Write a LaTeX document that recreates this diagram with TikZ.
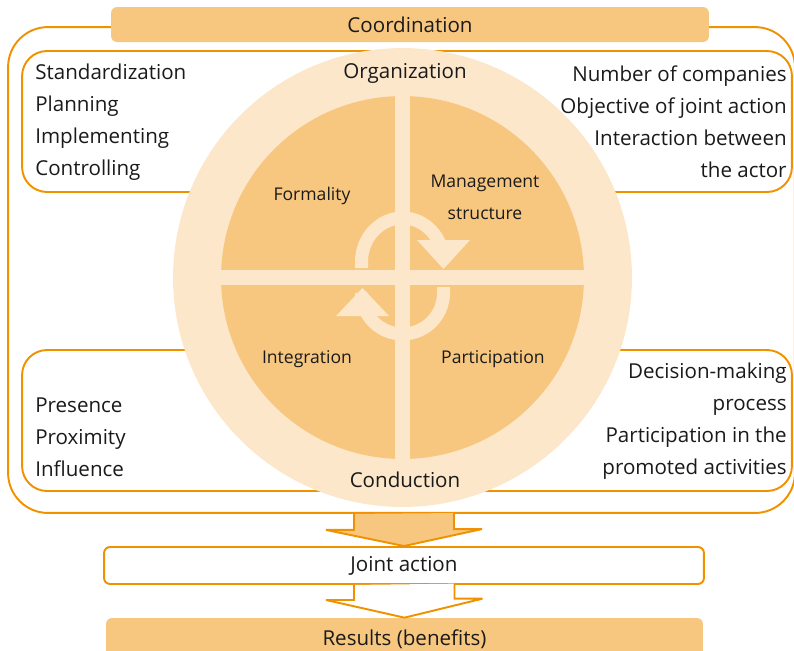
\documentclass[tikz,border=0pt]{standalone}
\usepackage{fontspec}
\setmainfont{Open Sans}
\usepackage{tikz}
\usetikzlibrary{calc}
\usetikzlibrary{positioning}
\definecolor{lineorange}{RGB}{240,145,0}
\definecolor{warm}{RGB}{247,199,128}
\definecolor{pale}{RGB}{252,231,202}
\definecolor{ink}{RGB}{26,26,26}

\begin{document}
\begin{tikzpicture}[x=0.02cm,y=-0.02cm]
\tikzstyle{frame}=[rectangle,draw=lineorange,line width=1.1pt,inner sep=0pt]
\tikzstyle{bar}=[rectangle,rounded corners=0.12cm,inner sep=0pt,text=ink,font=\fontsize{11.7}{14}\selectfont]
\tikzstyle{lst}=[inner sep=0pt,text=ink,font=\fontsize{11.7}{18.2}\selectfont]
\tikzstyle{sector}=[inner sep=0pt,text=ink,align=center,font=\fontsize{10}{18}\selectfont]
\tikzstyle{flow}=[draw=lineorange,line width=1.1pt,line join=miter,miter limit=1.5]
\useasboundingbox (0,0) rectangle (794,650);

% frames
\node[frame,rounded corners=0.8cm,minimum width=15.74cm,minimum height=9.72cm] at(401.5, 270) (outer) {};
\node[frame,rounded corners=0.5cm,minimum width=15.4cm,minimum height=2.82cm] at(407, 121.5) (upper) {};
\node[frame,rounded corners=0.5cm,minimum width=15.4cm,minimum height=2.82cm] at(407, 420.5) (lower) {};
\node[bar,fill=warm,minimum width=11.96cm,minimum height=0.7cm] at(410, 24.5) (coord) {Coordination};

% wheel
\node[circle,fill=pale,minimum size=9.18cm,inner sep=0pt] at(402.5, 277.5) (wheel) {};
\node[circle,fill=warm,minimum size=7.26cm,inner sep=0pt] at(wheel.center) (disk) {};
\fill[pale] (395, 96) rectangle (410, 459);
\fill[pale] (221, 270) rectangle (584, 285);
\draw[pale,line width=0.26cm] (361.5, 268) -- (361.5, 262)
      arc[start angle=180,end angle=360,x radius=41,y radius=44] -- (443.5, 240);
\fill[pale] (417, 240) -- (470, 240) -- (443.5, 269) -- cycle;
\draw[pale,line width=0.26cm] (443.5, 287) -- (443.5, 293)
      arc[start angle=0,end angle=180,x radius=41,y radius=41] -- (361.5, 316);
\fill[pale] (336, 316) -- (389, 316) -- (362.5, 288) -- cycle;

\node[lst] at(405, 73) (org) {Organization};
\node[lst] at(405, 480) (cond) {Conduction};
\node[sector] at(312, 196) (formality) {Formality};
\node[sector] at(485, 197) (mgmt) {Management\\structure};
\node[sector] at(307, 359) (integ) {Integration};
\node[sector] at(493, 359) (partic) {Participation};

% side lists
\node[lst,align=left,anchor=west] at(35, 122) (stdlist) {Standardization\\Planning\\Implementing\\Controlling};
\node[lst,align=right,anchor=east] at(787, 122) (numlist) {Number of companies\\Objective of joint action\\Interaction between\\the actor};
\node[lst,align=left,anchor=west] at(35, 437) (preslist) {Presence\\Proximity\\Influence};
\node[lst,align=right,anchor=east] at(787, 421.5) (declist) {Decision-making\\process\\Participation in the\\promoted activities};

% outcome
\node[bar,fill=white,draw=lineorange,line width=1.1pt,minimum width=12cm,minimum height=0.74cm] at(404, 565.5) (joint) {Joint action};
\node[bar,fill=warm,minimum width=11.94cm,minimum height=0.8cm,text depth=0pt] at(404.5, 638) (results) {Results (benefits)};

\draw[flow,fill=warm] ($(outer.south -| joint.north)+(-50,0)$) -- ++(0,16) -- ++(-28,0)
      -- (joint.north) -- ++(78,-17) -- ++(-28,0) -- ++(0,-16);
\draw[flow,fill=white] ($(joint.south)+(-50,0)$) -- ++(0,15) -- ++(-28,0)
      -- (results.north) -- ++(78,-19) -- ++(-28,0) -- ++(0,-15);
\end{tikzpicture}
\end{document}
